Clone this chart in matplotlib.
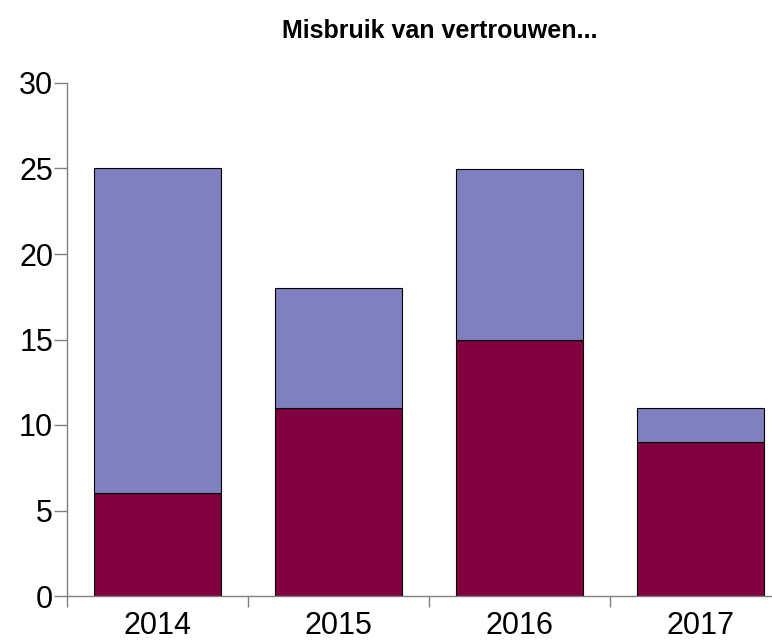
import matplotlib
matplotlib.use("Agg")
import numpy as np
import matplotlib.pyplot as plt
from matplotlib.ticker import FixedLocator

plt.rcParams["font.family"] = ["Liberation Sans", "DejaVu Sans"]

years = ["2014", "2015", "2016", "2017"]
onderste = [6, 11, 15, 9]
bovenste = [19, 7, 10, 2]

kleur_onder = "#800040"
kleur_boven = "#8080C0"
as_kleur = "#808080"

fig = plt.figure(figsize=(7.72, 6.42), dpi=100)
ax = fig.add_axes([67 / 772, 1 - 596 / 642, (791 - 67) / 772, (596 - 83) / 642])

x = np.arange(len(years))
ax.bar(x, onderste, width=0.7, color=kleur_onder, edgecolor="black", linewidth=0.8)
ax.bar(x, bovenste, width=0.7, bottom=onderste, color=kleur_boven,
       edgecolor="black", linewidth=0.8)

ax.set_xlim(-0.5, len(years) - 0.5)
ax.set_ylim(0, 30)
ax.set_yticks(range(0, 31, 5))

# jaartallen in het midden, streepjes tussen de categorieën
ax.set_xticks(x)
ax.set_xticklabels(years)
ax.xaxis.set_minor_locator(FixedLocator(np.arange(-0.5, len(years), 1.0)))
ax.tick_params(axis="x", which="major", length=0, labelsize=22, pad=10.5)
ax.tick_params(axis="x", which="minor", length=8, width=1, color=as_kleur,
               direction="out")
ax.tick_params(axis="y", length=9.5, width=1, color=as_kleur, labelsize=22, pad=0.5)

for side in ["top", "right"]:
    ax.spines[side].set_visible(False)
for side in ["left", "bottom"]:
    ax.spines[side].set_color(as_kleur)
    ax.spines[side].set_linewidth(1)

fig.text(440 / 772, 1 - 31 / 642, "Misbruik van vertrouwen...", ha="center",
         va="center", fontsize=18, fontweight="bold")

fig.savefig("out.png", dpi=100)
